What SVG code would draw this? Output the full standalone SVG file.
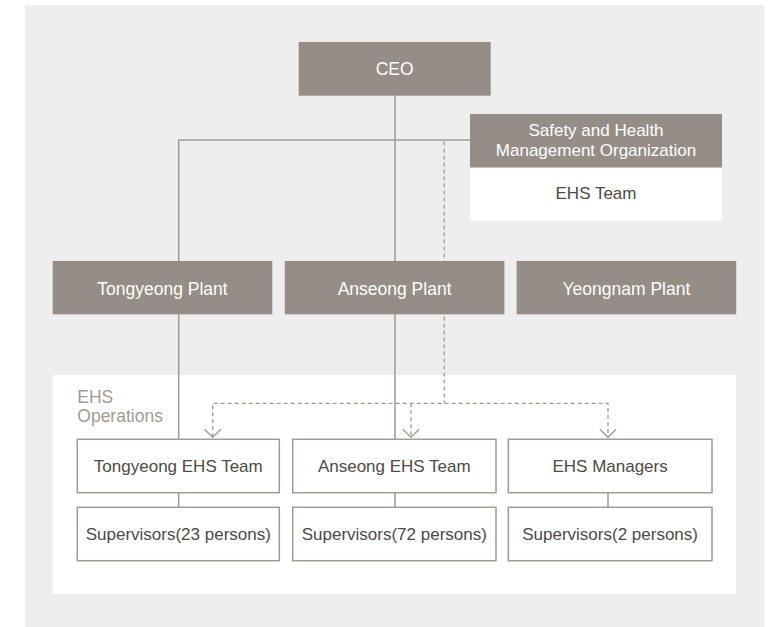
<svg xmlns="http://www.w3.org/2000/svg" width="770" height="627" viewBox="0 0 770 627">
<defs>
<style>
.bg{fill:#eeeeee}
.panel{fill:#ffffff}
.gbox{fill:#968e86}
.wbox{fill:#ffffff;stroke:#a29a93;stroke-width:1.5}
.line{fill:none;stroke:#a29a93;stroke-width:1.5}
.dash{fill:none;stroke:#a29a93;stroke-width:1.3;stroke-dasharray:4 3}
.wt{font-family:"Liberation Sans",Arial,sans-serif;font-size:17.5px;fill:#ffffff;text-anchor:middle}
.wt2{font-family:"Liberation Sans",Arial,sans-serif;font-size:17px;fill:#ffffff;text-anchor:middle}
.dt{font-family:"Liberation Sans",Arial,sans-serif;font-size:17px;fill:#4d4a47;text-anchor:middle}
.lt{font-family:"Liberation Sans",Arial,sans-serif;font-size:17.5px;fill:#a39b94}
</style>
<marker id="arr" viewBox="0 0 10 18" refX="9" refY="9" markerWidth="10" markerHeight="18" markerUnits="userSpaceOnUse" orient="auto-start-reverse">
<path d="M1,0.8 L9,9 L1,17.2" fill="none" stroke="#a29a93" stroke-width="1.3"/>
</marker>
</defs>
<rect class="bg" x="25" y="5" width="739" height="622"/>
<rect class="panel" x="52.7" y="375" width="683.3" height="219"/>
<text class="lt" x="77.3" y="403.3">EHS</text>
<text class="lt" x="77.3" y="421.7">Operations</text>
<g id="connectors">
<path class="line" d="M395,95.7 V439.3"/>
<path class="line" d="M178.7,439.3 V140 H470"/>
<path class="dash" d="M444.3,141.5 V403.3"/>
<path class="dash" d="M212.7,437.3 V403.3 H608 V437.3" marker-start="url(#arr)" marker-end="url(#arr)"/>
<path class="dash" d="M411,403.3 V437.3" marker-end="url(#arr)"/>
<path class="line" d="M178.7,492.7 V507.3 M395,492.7 V507.3 M608,492.7 V507.3"/>
</g>
<g id="ceo">
<rect class="gbox" x="298.7" y="42" width="192" height="53.7"/>
<text class="wt" x="394.7" y="74.7">CEO</text>
</g>
<g id="safety-org">
<rect class="gbox" x="470" y="114" width="252" height="53.7"/>
<rect class="panel" x="470" y="167.7" width="252" height="53"/>
<text class="wt2" x="596" y="136">Safety and Health</text>
<text class="wt2" x="596" y="156">Management Organization</text>
<text class="dt" x="596" y="199">EHS Team</text>
</g>
<g id="tongyeong-plant">
<rect class="gbox" x="52.7" y="261" width="219.6" height="53.3"/>
<text class="wt" x="162.5" y="294.5">Tongyeong Plant</text>
</g>
<g id="anseong-plant">
<rect class="gbox" x="284.8" y="261" width="219.6" height="53.3"/>
<text class="wt" x="394.6" y="294.5">Anseong Plant</text>
</g>
<g id="yeongnam-plant">
<rect class="gbox" x="516.6" y="261" width="219.6" height="53.3"/>
<text class="wt" x="626.4" y="294.5">Yeongnam Plant</text>
</g>
<g id="tongyeong-ehs">
<rect class="wbox" x="77.3" y="439.3" width="202" height="53.4"/>
<text class="dt" x="178.3" y="472">Tongyeong EHS Team</text>
</g>
<g id="anseong-ehs">
<rect class="wbox" x="292.7" y="439.3" width="203.3" height="53.4"/>
<text class="dt" x="394.3" y="472">Anseong EHS Team</text>
</g>
<g id="ehs-managers">
<rect class="wbox" x="508.3" y="439.3" width="203.7" height="53.4"/>
<text class="dt" x="610.1" y="472">EHS Managers</text>
</g>
<g id="sup-23">
<rect class="wbox" x="77.3" y="507.3" width="202" height="53.4"/>
<text class="dt" x="178.3" y="540">Supervisors(23 persons)</text>
</g>
<g id="sup-72">
<rect class="wbox" x="292.7" y="507.3" width="203.3" height="53.4"/>
<text class="dt" x="394.3" y="540">Supervisors(72 persons)</text>
</g>
<g id="sup-2">
<rect class="wbox" x="508.3" y="507.3" width="203.7" height="53.4"/>
<text class="dt" x="610.1" y="540">Supervisors(2 persons)</text>
</g>
</svg>
